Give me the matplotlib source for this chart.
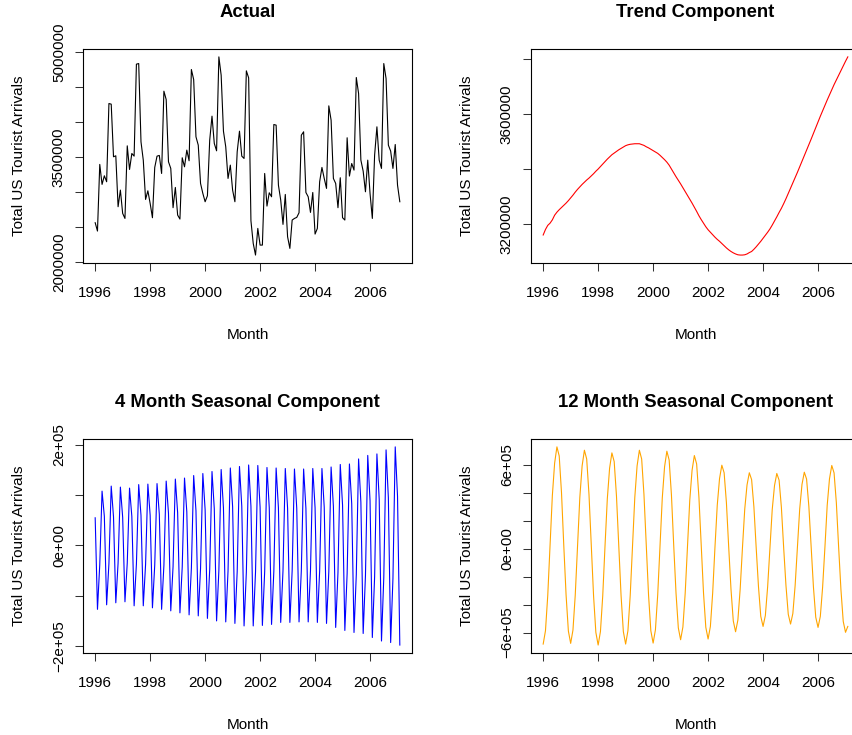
import numpy as np
import matplotlib
matplotlib.use("Agg")
import matplotlib.pyplot as plt

plt.rcParams['font.family'] = ['Liberation Sans', 'DejaVu Sans']
plt.rcParams['font.size'] = 11

# monthly series, Jan 1996 - Feb 2007, values in thousands
start_year = 1996

actual_k = [
    2565, 2446, 3396, 3111, 3234, 3149, 4264, 4255, 3505, 3519, 2793, 3030,
    2698, 2626, 3661, 3324, 3552, 3514, 4825, 4834, 3718, 3457, 2897, 3020,
    2840, 2636, 3353, 3514, 3524, 3267, 4440, 4321, 3434, 3339, 2779, 3068,
    2674, 2617, 3491, 3362, 3600, 3448, 4749, 4606, 3790, 3671, 3125, 2983,
    2864, 2949, 3742, 4084, 3695, 3590, 4929, 4668, 3870, 3647, 3196, 3386,
    3030, 2864, 3576, 3870, 3514, 3481, 4730, 4630, 2593, 2270, 2104, 2484,
    2246, 2246, 3267, 2802, 2992, 2935, 3965, 3956, 3101, 2888, 2541, 2968,
    2365, 2199, 2603, 2626, 2641, 2707, 3813, 3861, 2996, 2935, 2712, 2996,
    2403, 2484, 3149, 3353, 3196, 3054, 4231, 4027, 3196, 3125, 2779, 3206,
    2636, 2603, 3776, 3230, 3409, 3315, 4635, 4407, 3457, 3300, 3006, 3457,
    2983, 2626, 3528, 3932, 3457, 3339, 4834, 4620, 3671, 3586, 3339, 3680,
    3101, 2864,
]

trend_k = [
    3160, 3180, 3195, 3203, 3215, 3232, 3243, 3252, 3260, 3268, 3276, 3285,
    3295, 3305, 3316, 3326, 3335, 3344, 3352, 3360, 3367, 3375, 3383, 3392,
    3400, 3409, 3418, 3427, 3436, 3444, 3452, 3458, 3464, 3470, 3475, 3480,
    3485, 3488, 3490, 3491, 3492, 3492, 3492, 3489, 3486, 3481, 3477, 3472,
    3467, 3462, 3457, 3450, 3442, 3434, 3425, 3414, 3400, 3386, 3372, 3359,
    3346, 3332, 3318, 3304, 3290, 3276, 3261, 3246, 3230, 3216, 3203, 3190,
    3179, 3170, 3161, 3152, 3144, 3137, 3129, 3121, 3113, 3106, 3100, 3095,
    3091, 3088, 3087, 3087, 3088, 3091, 3096, 3100, 3108, 3117, 3127, 3137,
    3148, 3159, 3170, 3182, 3196, 3211, 3226, 3242, 3257, 3274, 3292, 3311,
    3330, 3349, 3368, 3388, 3408, 3428, 3449, 3469, 3489, 3509, 3530, 3551,
    3572, 3592, 3612, 3632, 3651, 3670, 3689, 3707, 3724, 3741, 3758, 3775,
    3792, 3808,
]

season4_k = [
    55, -127, -38, 108, 58, -118, -36, 118, 57, -114, -35, 116,
    56, -112, -35, 114, 58, -120, -37, 121, 60, -120, -38, 122,
    60, -124, -39, 123, 62, -127, -40, 128, 64, -130, -42, 132,
    65, -134, -43, 134, 67, -138, -45, 139, 69, -140, -46, 143,
    71, -145, -48, 147, 73, -150, -50, 151, 75, -152, -51, 154,
    77, -155, -52, 157, 78, -160, -53, 160, 78, -160, -53, 159,
    76, -159, -52, 155, 75, -157, -51, 154, 75, -153, -50, 153,
    74, -153, -50, 152, 74, -152, -50, 152, 74, -152, -50, 153,
    75, -153, -51, 153, 76, -155, -52, 156, 78, -163, -54, 161,
    80, -169, -56, 162, 83, -173, -58, 172, 86, -175, -60, 179,
    89, -183, -62, 182, 92, -190, -64, 190, 95, -193, -66, 196,
    98, -198,
]

season12_k = [
    -682, -587, -334, 20, 378, 611, 727, 662, 400, 20, -332, -589,
    -677, -582, -332, 20, 366, 591, 703, 640, 387, 20, -338, -599,
    -689, -593, -338, 20, 356, 575, 684, 622, 376, 20, -334, -593,
    -682, -587, -334, 20, 366, 591, 703, 640, 387, 20, -331, -587,
    -675, -581, -331, 20, 362, 585, 696, 633, 383, 20, -319, -566,
    -651, -560, -319, 18, 346, 559, 665, 605, 366, 18, -317, -562,
    -646, -556, -317, 10, 310, 501, 596, 542, 328, 10, -291, -517,
    -594, -511, -291, 5, 282, 455, 542, 493, 298, 5, -272, -484,
    -556, -478, -272, 5, 279, 451, 537, 489, 295, 5, -264, -469,
    -539, -464, -264, 5, 284, 459, 546, 497, 300, 5, -276, -490,
    -563, -484, -276, 8, 309, 499, 594, 541, 327, 8, -293, -520,
    -598, -556,
]

year_ticks = [1996, 1998, 2000, 2002, 2004, 2006]

actual_yticks = [2000000, 2500000, 3000000, 3500000, 4000000, 4500000, 5000000]
actual_ylabels = ['2000000', '', '', '3500000', '', '', '5000000']
trend_yticks = [3200000, 3400000, 3600000, 3800000]
trend_ylabels = ['3200000', '', '3600000', '']
s4_yticks = [-200000, -100000, 0, 100000, 200000]
s4_ylabels = ['\u22122e+05', '', '0e+00', '', '2e+05']
s12_yticks = [-600000, -400000, -200000, 0, 200000, 400000, 600000]
s12_ylabels = ['\u22126e+05', '', '', '0e+00', '', '', '6e+05']

panels = [
    ("Actual", actual_k, "black", actual_yticks, actual_ylabels, 0.0973, 0.6422),
    ("Trend Component", trend_k, "red", trend_yticks, trend_ylabels, 0.6225, 0.6422),
    ("4 Month Seasonal Component", season4_k, "blue", s4_yticks, s4_ylabels, 0.0973, 0.1116),
    ("12 Month Seasonal Component", season12_k, "orange", s12_yticks, s12_ylabels, 0.6225, 0.1116),
]

fig = plt.figure(figsize=(8.53, 7.35), dpi=100)

for title, vals, color, yt, ytl, x0, y0 in panels:
    ax = fig.add_axes([x0, y0, 0.3857, 0.2912])
    y = np.array(vals) * 1000
    t = start_year + np.arange(len(y)) / 12
    ax.plot(t, y, color=color, lw=0.8)
    ax.margins(x=0.04, y=0.04)

    ax.set_xticks(year_ticks)
    ax.set_yticks(yt)
    ax.set_yticklabels(ytl, rotation=90, va='center')
    ax.tick_params(direction='out', length=5.8, width=0.75, color='#333333')
    ax.tick_params(axis='x', pad=11)
    ax.tick_params(axis='y', pad=6.5)
    for s in ax.spines.values():
        s.set_linewidth(0.8)

    ax.set_title(title, fontsize=13.3, fontweight='bold', pad=23)
    ax.set_xlabel("Month", labelpad=20)
    ax.set_ylabel("Total US Tourist Arrivals", labelpad=19)

fig.savefig("out.png", dpi=100)
